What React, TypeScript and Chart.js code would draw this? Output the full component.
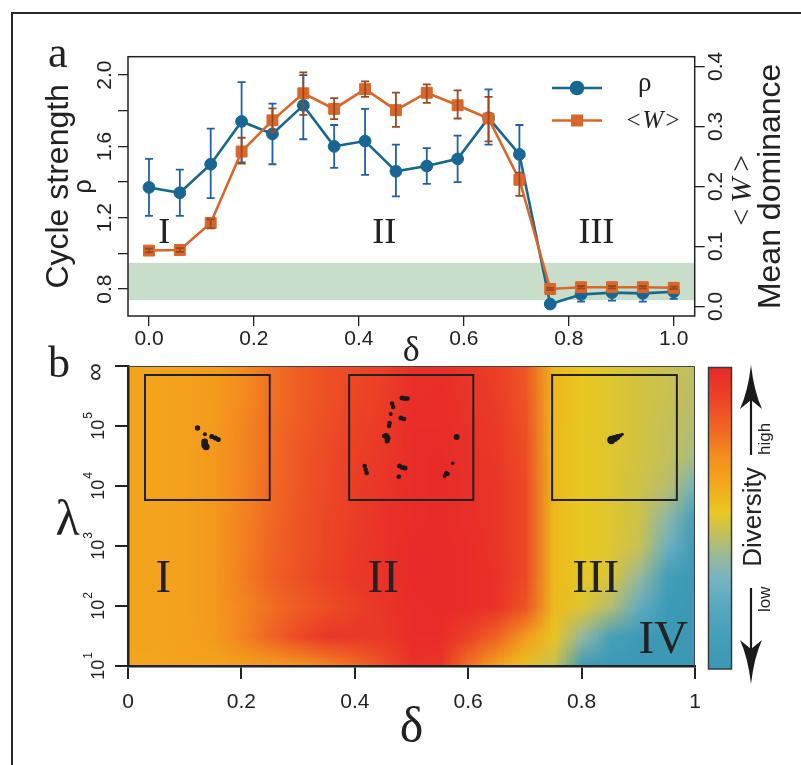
import { useEffect, useRef } from 'react';
import { Chart, registerables } from 'chart.js';

Chart.register(...registerables);

const SANS = "'Liberation Sans', Arial, Helvetica, sans-serif";
const SERIF = "'Liberation Serif', 'Times New Roman', serif";
const NARROW = "'Liberation Sans Narrow', 'Liberation Sans', Arial, sans-serif";
const INK = '#222222';

// ---------- panel a: cycle strength and mean dominance against delta ----------
const deltaPoints = [0, 0.0588, 0.1176, 0.1765, 0.2353, 0.2941, 0.3529, 0.4118, 0.4706, 0.5294, 0.5882, 0.6471, 0.7059, 0.7647, 0.8235, 0.8824, 0.9412, 1.0];
const rhoMean = [1.37, 1.34, 1.50, 1.74, 1.67, 1.83, 1.60, 1.63, 1.46, 1.49, 1.53, 1.76, 1.555, 0.716, 0.77, 0.78, 0.776, 0.785];
const rhoLow = [1.21, 1.21, 1.31, 1.51, 1.50, 1.64, 1.48, 1.44, 1.32, 1.39, 1.40, 1.61, 1.41, 0.70, 0.73, 0.735, 0.73, 0.745];
const rhoHigh = [1.53, 1.47, 1.70, 1.96, 1.84, 2.00, 1.72, 1.81, 1.61, 1.59, 1.66, 1.92, 1.72, 0.735, 0.81, 0.81, 0.812, 0.83];
const wMean = [0.093, 0.094, 0.139, 0.258, 0.310, 0.355, 0.329, 0.362, 0.327, 0.356, 0.335, 0.313, 0.211, 0.029, 0.032, 0.032, 0.032, 0.031];
const wLow = [0.090, 0.091, 0.130, 0.238, 0.291, 0.319, 0.312, 0.349, 0.299, 0.339, 0.313, 0.275, 0.184, 0.027, 0.030, 0.030, 0.030, 0.029];
const wHigh = [0.096, 0.097, 0.145, 0.281, 0.330, 0.390, 0.347, 0.375, 0.356, 0.370, 0.360, 0.349, 0.223, 0.031, 0.034, 0.034, 0.034, 0.033];
const neutralBand = [0.738, 0.947];

const topXTicks = [0, 0.2, 0.4, 0.6, 0.8, 1.0];
const topXLabels = ['0.0', '0.2', '0.4', '0.6', '0.8', '1.0'];
const rhoTicks = [0.8, 1.0, 1.2, 1.4, 1.6, 1.8, 2.0];
const rhoLabels = ['0.8', '', '1.2', '', '1.6', '', '2.0'];
const wTicks = [0, 0.1, 0.2, 0.3, 0.4];
const wLabels = ['0.0', '0.1', '0.2', '0.3', '0.4'];
const regimesTop = ['I', 'II', 'III'];
const regimesTopDelta = [0.029, 0.4485, 0.853];
const regimesTopRho = 1.056;

const BLUE = '#17688f';
const BLUE_ERR = '#2161a3';
const ORANGE = '#d9662a';
const ORANGE_ERR = '#9a4a22';
const BAND = '#c9ddcb';

// ---------- panel b: diversity over (delta, lambda) ----------
const deltaGrid = [0, 0.05, 0.1, 0.15, 0.2, 0.25, 0.3, 0.35, 0.4, 0.45, 0.5, 0.55, 0.6, 0.65, 0.7, 0.75, 0.8, 0.85, 0.9, 0.95, 1.0];
const lambdaExpGrid = [6, 5.5, 5, 4.5, 4, 3.5, 3, 2.5, 2, 1.5, 1];
const div60 = [0.63, 0.63, 0.64, 0.66, 0.71, 0.77, 0.82, 0.86, 0.88, 0.91, 0.96, 0.97, 0.94, 0.91, 0.84, 0.57, 0.52, 0.50, 0.48, 0.46, 0.44];
const div55 = [0.63, 0.63, 0.64, 0.66, 0.71, 0.77, 0.82, 0.86, 0.89, 0.92, 0.97, 0.98, 0.95, 0.92, 0.85, 0.57, 0.52, 0.50, 0.48, 0.46, 0.43];
const div50 = [0.63, 0.63, 0.64, 0.66, 0.72, 0.78, 0.83, 0.87, 0.90, 0.93, 0.98, 0.98, 0.96, 0.93, 0.86, 0.56, 0.52, 0.50, 0.48, 0.45, 0.42];
const div45 = [0.63, 0.63, 0.64, 0.67, 0.72, 0.78, 0.84, 0.88, 0.91, 0.94, 0.98, 0.99, 0.96, 0.94, 0.87, 0.56, 0.52, 0.50, 0.48, 0.45, 0.40];
const div40 = [0.63, 0.63, 0.64, 0.67, 0.72, 0.79, 0.84, 0.88, 0.92, 0.95, 0.98, 0.99, 0.97, 0.95, 0.88, 0.56, 0.52, 0.50, 0.47, 0.43, 0.28];
const div35 = [0.63, 0.63, 0.64, 0.67, 0.73, 0.79, 0.85, 0.89, 0.92, 0.96, 0.98, 0.99, 0.97, 0.95, 0.88, 0.56, 0.52, 0.50, 0.47, 0.35, 0.08];
const div30 = [0.63, 0.63, 0.64, 0.67, 0.73, 0.80, 0.85, 0.89, 0.93, 0.96, 0.99, 0.99, 0.98, 0.95, 0.88, 0.56, 0.52, 0.50, 0.46, 0.27, 0.03];
const div25 = [0.63, 0.63, 0.64, 0.67, 0.74, 0.81, 0.86, 0.90, 0.94, 0.96, 0.99, 0.99, 0.98, 0.96, 0.88, 0.56, 0.52, 0.49, 0.37, 0.10, 0.02];
const div20 = [0.63, 0.63, 0.64, 0.67, 0.72, 0.78, 0.83, 0.87, 0.91, 0.95, 0.98, 0.99, 0.98, 0.96, 0.85, 0.56, 0.50, 0.42, 0.24, 0.04, 0.02];
const div15 = [0.63, 0.63, 0.64, 0.66, 0.73, 0.80, 0.88, 0.94, 0.94, 0.94, 0.98, 0.98, 0.90, 0.80, 0.66, 0.53, 0.36, 0.12, 0.04, 0.02, 0.02];
const div10 = [0.62, 0.62, 0.63, 0.63, 0.64, 0.65, 0.67, 0.72, 0.78, 0.86, 0.96, 0.95, 0.76, 0.62, 0.53, 0.45, 0.03, 0.02, 0.02, 0.02, 0.02];
const diversityRows = [div60, div55, div50, div45, div40, div35, div30, div25, div20, div15, div10];

const diversityStops: [number, string][] = [
  [0.0, '#3a98b5'], [0.1, '#429fb9'], [0.2, '#55a8bf'], [0.3, '#78b3c3'], [0.38, '#9cba96'],
  [0.45, '#c4c05a'], [0.52, '#e8c820'], [0.6, '#f2ac1c'], [0.7, '#f5901f'], [0.8, '#f06524'],
  [0.9, '#ec4226'], [1.0, '#e8282a'],
];

const bottomXTicks = [0, 0.2, 0.4, 0.6, 0.8, 1];
const bottomXLabels = ['0', '0.2', '0.4', '0.6', '0.8', '1'];
const lambdaTicks = [1e1, 1e2, 1e3, 1e4, 1e5, 1e6];
const lambdaTickExps = ['1', '2', '3', '4', '5', '∞'];
const regimesBottom = ['I', 'II', 'III', 'IV'];
const regimesBottomDelta = [0.0623, 0.45, 0.825, 0.944];
const regimesBottomExp = [2.238, 2.238, 2.238, 1.212];

// attractor insets: delta span of each box and shared log10(lambda) span
const insetDeltaSpans = [[0.030, 0.250], [0.390, 0.609], [0.748, 0.968]];
const insetExpSpan = [5.85, 3.767];
// dots inside each box: [fraction across, fraction down, radius]
const attractorI = [
  [0.421, 0.424, 2.7], [0.48, 0.474, 2.0], [0.478, 0.535, 3.4], [0.49, 0.575, 3.5], [0.478, 0.56, 3.4],
  [0.536, 0.492, 2.6], [0.564, 0.504, 2.6], [0.588, 0.516, 2.5],
];
const attractorII = [
  [0.426, 0.184, 2.5], [0.45, 0.188, 2.5], [0.47, 0.188, 2.3], [0.346, 0.228, 2.3], [0.354, 0.256, 2.3],
  [0.335, 0.312, 2.0], [0.418, 0.344, 2.5], [0.442, 0.352, 2.3], [0.326, 0.384, 2.3], [0.322, 0.408, 2.3],
  [0.298, 0.488, 3.0], [0.31, 0.504, 3.0], [0.306, 0.528, 2.5], [0.282, 0.488, 2.3], [0.866, 0.496, 3.0],
  [0.125, 0.728, 2.3], [0.133, 0.756, 2.3], [0.141, 0.784, 2.3], [0.406, 0.728, 2.5], [0.43, 0.74, 2.5],
  [0.45, 0.744, 2.5], [0.4, 0.814, 2.3], [0.834, 0.706, 1.8], [0.784, 0.788, 2.5], [0.768, 0.808, 2.0],
  [0.796, 0.792, 2.0],
];
const attractorIII = [
  [0.475, 0.52, 4.2], [0.5, 0.508, 3.6], [0.524, 0.496, 2.9], [0.546, 0.484, 2.1], [0.562, 0.474, 1.6],
];
const attractors = [attractorI, attractorII, attractorIII];

// ---------- helpers ----------
function hexRgb(h: string): [number, number, number] {
  return [parseInt(h.slice(1, 3), 16), parseInt(h.slice(3, 5), 16), parseInt(h.slice(5, 7), 16)];
}

function diversityColor(v: number): [number, number, number] {
  for (let i = 1; i < diversityStops.length; i++) {
    const [p1, c1] = diversityStops[i];
    if (v <= p1) {
      const [p0, c0] = diversityStops[i - 1];
      const t = Math.max(0, (v - p0) / (p1 - p0));
      const a = hexRgb(c0), b = hexRgb(c1);
      return [0, 1, 2].map((k) => Math.round(a[k] + (b[k] - a[k]) * t)) as [number, number, number];
    }
  }
  return hexRgb(diversityStops[diversityStops.length - 1][1]);
}

function rotatedText(ctx: CanvasRenderingContext2D, text: string, x: number, y: number, font: string, align: CanvasTextAlign = 'center', baseline: CanvasTextBaseline = 'alphabetic') {
  ctx.save();
  ctx.translate(x, y);
  ctx.rotate(-Math.PI / 2);
  ctx.font = font;
  ctx.textAlign = align;
  ctx.textBaseline = baseline;
  ctx.fillText(text, 0, 0);
  ctx.restore();
}

// text made of differently styled pieces laid out along one baseline, centred on (0,0)
function richText(ctx: CanvasRenderingContext2D, parts: { t: string; font: string; gap?: number }[]) {
  let total = 0;
  const widths = parts.map((p) => {
    ctx.font = p.font;
    const w = ctx.measureText(p.t).width + (p.gap || 0);
    total += w;
    return w;
  });
  let cx = -total / 2;
  ctx.textAlign = 'left';
  parts.forEach((p, i) => {
    ctx.font = p.font;
    ctx.fillText(p.t, cx + (p.gap || 0) / 2, 0);
    cx += widths[i];
  });
}

function wAngle(size: number, gap: number) {
  return [
    { t: '<', font: `${size}px ${SERIF}`, gap },
    { t: 'W', font: `italic ${size}px ${SERIF}`, gap },
    { t: '>', font: `${size}px ${SERIF}`, gap },
  ];
}

// ---------- panel a plugin ----------
const panelAPlugin = {
  id: 'panelA',
  beforeDatasetsDraw(chart: any) {
    const { ctx, chartArea: a, scales } = chart;
    const top = scales.y.getPixelForValue(neutralBand[1]);
    const bot = scales.y.getPixelForValue(neutralBand[0]);
    ctx.save();
    ctx.fillStyle = BAND;
    ctx.fillRect(a.left, top, a.right - a.left, bot - top);
    ctx.restore();
  },
  afterDatasetDraw(chart: any, args: any) {
    const { ctx, scales } = chart;
    const isRho = args.index === 0;
    const lo = isRho ? rhoLow : wLow;
    const hi = isRho ? rhoHigh : wHigh;
    const ys = isRho ? scales.y : scales.y2;
    ctx.save();
    ctx.strokeStyle = isRho ? BLUE_ERR : ORANGE_ERR;
    ctx.lineWidth = 1.8;
    deltaPoints.forEach((d, i) => {
      const px = scales.x.getPixelForValue(d);
      const p0 = ys.getPixelForValue(lo[i]);
      const p1 = ys.getPixelForValue(hi[i]);
      ctx.beginPath();
      ctx.moveTo(px, p0); ctx.lineTo(px, p1);
      ctx.moveTo(px - 4, p0); ctx.lineTo(px + 4, p0);
      ctx.moveTo(px - 4, p1); ctx.lineTo(px + 4, p1);
      ctx.stroke();
    });
    ctx.restore();
  },
  afterDraw(chart: any) {
    const { ctx, chartArea: a, scales } = chart;
    const { x, y, y2 } = scales;
    ctx.save();
    ctx.strokeStyle = INK;
    ctx.lineWidth = 1.5;
    ctx.strokeRect(a.left, a.top, a.right - a.left, a.bottom - a.top);

    ctx.fillStyle = INK;
    ctx.font = `21px ${SANS}`;
    ctx.textAlign = 'center';
    ctx.textBaseline = 'alphabetic';
    topXTicks.forEach((v, i) => ctx.fillText(topXLabels[i], x.getPixelForValue(v), a.bottom + 29));
    rhoTicks.forEach((v, i) => {
      if (rhoLabels[i]) rotatedText(ctx, rhoLabels[i], a.left - 17, y.getPixelForValue(v), `21px ${SANS}`);
    });
    wTicks.forEach((v, i) => rotatedText(ctx, wLabels[i], a.right + 27, y2.getPixelForValue(v), `21px ${SANS}`));

    // axis titles
    const midY = (a.top + a.bottom) / 2;
    rotatedText(ctx, 'Cycle strength', a.left - 60, midY, `32px ${SANS}`);
    rotatedText(ctx, 'ρ', a.left - 37, midY, `25px ${SANS}`);
    rotatedText(ctx, 'Mean dominance', a.right + 85, midY, `32px ${SANS}`);
    ctx.save();
    ctx.translate(a.right + 56, midY + 4);
    ctx.rotate(-Math.PI / 2);
    ctx.textBaseline = 'alphabetic';
    richText(ctx, wAngle(30, 6));
    ctx.restore();
    ctx.font = `36px ${SERIF}`;
    ctx.textAlign = 'center';
    ctx.fillText('δ', (a.left + a.right) / 2, a.bottom + 45);

    // panel letter
    ctx.font = `44px ${SERIF}`;
    ctx.textAlign = 'left';
    ctx.fillText('a', 48, 67);

    // regime numerals
    ctx.font = `36px ${SERIF}`;
    ctx.textAlign = 'center';
    regimesTop.forEach((r, i) => ctx.fillText(r, x.getPixelForValue(regimesTopDelta[i]), y.getPixelForValue(regimesTopRho)));

    // legend
    const legendRows = [
      { y: 88, color: BLUE, shape: 'circle', label: chart.data.datasets[0].label },
      { y: 120.5, color: ORANGE, shape: 'rect', label: chart.data.datasets[1].label },
    ];
    legendRows.forEach((row) => {
      ctx.strokeStyle = row.color;
      ctx.fillStyle = row.color;
      ctx.lineWidth = 2.6;
      ctx.beginPath();
      ctx.moveTo(552, row.y);
      ctx.lineTo(602, row.y);
      ctx.stroke();
      ctx.beginPath();
      if (row.shape === 'circle') ctx.arc(577, row.y, 7.3, 0, Math.PI * 2);
      else ctx.rect(577 - 6, row.y - 6, 12, 12);
      ctx.fill();
    });
    ctx.fillStyle = INK;
    ctx.font = `27px ${SERIF}`;
    ctx.textAlign = 'left';
    ctx.fillText(legendRows[0].label, 638, 91);
    ctx.save();
    ctx.translate(653, 128);
    richText(ctx, wAngle(25, 2));
    ctx.restore();
    ctx.restore();
  },
};

// ---------- panel b plugin ----------
let heatImage: HTMLCanvasElement | null = null;
function getHeatImage() {
  if (heatImage) return heatImage;
  const nr = diversityRows.length;
  const nc = deltaGrid.length;
  const off = document.createElement('canvas');
  off.width = nc;
  off.height = nr;
  const octx = off.getContext('2d')!;
  const img = octx.createImageData(nc, nr);
  diversityRows.forEach((row, r) => row.forEach((v, c) => {
    const [R, G, B] = diversityColor(v);
    const k = (r * nc + c) * 4;
    img.data[k] = R; img.data[k + 1] = G; img.data[k + 2] = B; img.data[k + 3] = 255;
  }));
  octx.putImageData(img, 0, 0);
  heatImage = off;
  return off;
}

function arrowHead(ctx: CanvasRenderingContext2D, x: number, tipY: number, dir: number) {
  // dir = -1 for pointing up, +1 for pointing down
  const len = 44;
  ctx.beginPath();
  ctx.moveTo(x, tipY);
  ctx.quadraticCurveTo(x - 3, tipY - dir * len * 0.6, x - 11, tipY - dir * len);
  ctx.lineTo(x, tipY - dir * (len - 9));
  ctx.lineTo(x + 11, tipY - dir * len);
  ctx.quadraticCurveTo(x + 3, tipY - dir * len * 0.6, x, tipY);
  ctx.closePath();
  ctx.fill();
}

const panelBPlugin = {
  id: 'panelB',
  beforeDraw(chart: any) {
    const { ctx, scales } = chart;
    const { x, y } = scales;
    const img = getHeatImage();
    const nc = deltaGrid.length, nr = lambdaExpGrid.length;
    const x0 = x.getPixelForValue(deltaGrid[0]);
    const x1 = x.getPixelForValue(deltaGrid[nc - 1]);
    const yT = y.getPixelForValue(10 ** lambdaExpGrid[0]);
    const yB = y.getPixelForValue(10 ** lambdaExpGrid[nr - 1]);
    ctx.save();
    ctx.imageSmoothingEnabled = true;
    ctx.imageSmoothingQuality = 'low';
    ctx.drawImage(img, 0.5, 0.5, nc - 1, nr - 1, x0, yT, x1 - x0, yB - yT);
    ctx.restore();
  },
  beforeDatasetsDraw(chart: any) {
    const { ctx, scales } = chart;
    const { x, y } = scales;
    ctx.save();
    ctx.strokeStyle = INK;
    ctx.lineWidth = 2;
    const top = y.getPixelForValue(10 ** insetExpSpan[0]);
    const bot = y.getPixelForValue(10 ** insetExpSpan[1]);
    insetDeltaSpans.forEach(([d0, d1]) => {
      const l = x.getPixelForValue(d0), r = x.getPixelForValue(d1);
      ctx.strokeRect(l, top, r - l, bot - top);
    });
    ctx.restore();
  },
  afterDraw(chart: any) {
    const { ctx, chartArea: a, scales } = chart;
    const { x, y } = scales;
    ctx.save();
    // thin frame on the open sides of the map
    ctx.strokeStyle = '#444';
    ctx.lineWidth = 1;
    ctx.beginPath();
    ctx.moveTo(a.left, a.top + 0.5);
    ctx.lineTo(a.right - 0.5, a.top + 0.5);
    ctx.lineTo(a.right - 0.5, a.bottom);
    ctx.stroke();

    ctx.fillStyle = INK;
    ctx.font = `21px ${NARROW}`;
    ctx.textAlign = 'center';
    ctx.textBaseline = 'alphabetic';
    bottomXTicks.forEach((v, i) => ctx.fillText(bottomXLabels[i], x.getPixelForValue(v), a.bottom + 42));

    lambdaTicks.forEach((v, i) => {
      const py = y.getPixelForValue(v);
      const e = lambdaTickExps[i];
      ctx.save();
      ctx.translate(a.left - 24.5, py);
      ctx.rotate(-Math.PI / 2);
      if (e === '∞') {
        ctx.font = `25px ${SANS}`;
        ctx.textAlign = 'center';
        ctx.fillText('∞', -6, -1);
      } else {
        ctx.font = `18px ${SANS}`;
        const wb = ctx.measureText('10').width;
        ctx.font = `12px ${SANS}`;
        const we = ctx.measureText(e).width;
        const start = -(wb + we + 1) / 2;
        ctx.textAlign = 'left';
        ctx.font = `18px ${SANS}`;
        ctx.fillText('10', start, 0);
        ctx.font = `12px ${SANS}`;
        ctx.fillText(e, start + wb + 1, -12);
      }
      ctx.restore();
    });

    // axis titles and panel letter
    ctx.font = `50px ${SERIF}`;
    ctx.textAlign = 'center';
    ctx.fillText('δ', (a.left + a.right) / 2, a.bottom + 76);
    ctx.fillText('λ', 67.5, a.top + 169);
    ctx.font = `44px ${SERIF}`;
    ctx.textAlign = 'left';
    ctx.fillText('b', 48, a.top + 11);

    // regime numerals
    ctx.font = `47px ${SERIF}`;
    ctx.textAlign = 'center';
    regimesBottom.forEach((r, i) => ctx.fillText(r, x.getPixelForValue(regimesBottomDelta[i]), y.getPixelForValue(10 ** regimesBottomExp[i])));

    // colour bar
    const cbL = a.right + 13.5, cbR = a.right + 36.5;
    const cbT = a.top + 1.5, cbB = a.bottom + 3;
    const grad = ctx.createLinearGradient(0, cbB, 0, cbT);
    diversityStops.forEach(([p, c]) => grad.addColorStop(p, c));
    ctx.fillStyle = grad;
    ctx.fillRect(cbL, cbT, cbR - cbL, cbB - cbT);
    ctx.strokeStyle = '#3a3a3a';
    ctx.lineWidth = 1.5;
    ctx.strokeRect(cbL, cbT, cbR - cbL, cbB - cbT);

    // direction arrows with the bar's caption
    const ax = 751;
    ctx.strokeStyle = '#1a1a1a';
    ctx.fillStyle = '#1a1a1a';
    ctx.lineWidth = 2.2;
    ctx.beginPath();
    ctx.moveTo(ax, a.top + 89);
    ctx.lineTo(ax, a.top + 30);
    ctx.moveTo(ax, a.top + 222);
    ctx.lineTo(ax, a.top + 290);
    ctx.stroke();
    arrowHead(ctx, ax, a.top - 1, -1);
    arrowHead(ctx, ax, a.top + 318, 1);

    ctx.fillStyle = INK;
    rotatedText(ctx, 'Diversity', 761, a.top + 151, `26px ${SANS}`);
    rotatedText(ctx, 'high', 769.5, a.top + 89, `17px ${SANS}`, 'left');
    rotatedText(ctx, 'low', 769.5, a.top + 246, `17px ${SANS}`, 'left');
    ctx.restore();
  },
};

function insetData(k: number) {
  const [d0, d1] = insetDeltaSpans[k];
  const [e0, e1] = insetExpSpan;
  return attractors[k].map(([fx, fy]) => ({ x: d0 + fx * (d1 - d0), y: 10 ** (e0 - fy * (e0 - e1)) }));
}

function makeTopChart(canvas: HTMLCanvasElement) {
  const tickGrid = { drawOnChartArea: false, drawTicks: true, tickLength: 10, color: INK, lineWidth: 1.3 };
  return new Chart(canvas, {
    type: 'line',
    data: {
      datasets: [
        {
          label: 'ρ',
          data: deltaPoints.map((d, i) => ({ x: d, y: rhoMean[i] })),
          yAxisID: 'y',
          borderColor: BLUE,
          backgroundColor: BLUE,
          borderWidth: 2.6,
          pointStyle: 'circle',
          pointRadius: 5.9,
          pointBorderWidth: 1,
          order: 2,
        },
        {
          label: '<W>',
          data: deltaPoints.map((d, i) => ({ x: d, y: wMean[i] })),
          yAxisID: 'y2',
          borderColor: ORANGE,
          backgroundColor: ORANGE,
          borderWidth: 2.6,
          pointStyle: 'rect',
          pointRadius: 7.7,
          pointBorderWidth: 1,
          order: 1,
        },
      ],
    },
    options: {
      responsive: false,
      animation: false,
      events: [],
      layout: { padding: { top: 56.7, left: 0, right: 0, bottom: 0 } },
      plugins: { legend: { display: false }, tooltip: { enabled: false } },
      scales: {
        x: {
          type: 'linear', min: -0.04, max: 1.04,
          afterBuildTicks: (s: any) => { s.ticks = topXTicks.map((v) => ({ value: v })); },
          afterFit: (s: any) => { s.height = 372 - 316; },
          ticks: { display: false }, grid: tickGrid, border: { display: false },
        },
        y: {
          type: 'linear', position: 'left', min: 0.649, max: 2.103,
          afterBuildTicks: (s: any) => { s.ticks = rhoTicks.map((v) => ({ value: v })); },
          afterFit: (s: any) => { s.width = 128; },
          ticks: { display: false }, grid: tickGrid, border: { display: false },
        },
        y2: {
          type: 'linear', position: 'right', min: -0.016, max: 0.416,
          afterBuildTicks: (s: any) => { s.ticks = wTicks.map((v) => ({ value: v })); },
          afterFit: (s: any) => { s.width = 801 - 694.7; },
          ticks: { display: false }, grid: tickGrid, border: { display: false },
        },
      },
    } as any,
    plugins: [panelAPlugin],
  });
}

function makeBottomChart(canvas: HTMLCanvasElement) {
  const axisGrid = { drawOnChartArea: false, drawTicks: true, tickLength: 13, color: INK, lineWidth: 2 };
  return new Chart(canvas, {
    type: 'scatter',
    data: {
      datasets: attractors.map((dots, k) => ({
        label: `attractor ${k + 1}`,
        data: insetData(k),
        backgroundColor: '#1a1a1a',
        borderWidth: 0,
        pointRadius: dots.map((d) => d[2]),
      })),
    },
    options: {
      responsive: false,
      animation: false,
      events: [],
      layout: { padding: { top: 26, left: 0, right: 106, bottom: 0 } },
      plugins: { legend: { display: false }, tooltip: { enabled: false } },
      scales: {
        x: {
          type: 'linear', min: 0, max: 1,
          afterBuildTicks: (s: any) => { s.ticks = bottomXTicks.map((v) => ({ value: v })); },
          afterFit: (s: any) => { s.height = 425 - 326; },
          ticks: { display: false }, grid: axisGrid, border: { display: true, color: INK, width: 2.5 },
        },
        y: {
          type: 'logarithmic', position: 'left', min: 1e1, max: 1e6,
          afterBuildTicks: (s: any) => { s.ticks = lambdaTicks.map((v) => ({ value: v })); },
          afterFit: (s: any) => { s.width = 128; },
          ticks: { display: false }, grid: axisGrid, border: { display: true, color: INK, width: 2.5 },
        },
      },
    } as any,
    plugins: [panelBPlugin],
  });
}

export default function App() {
  const topRef = useRef<HTMLCanvasElement>(null);
  const bottomRef = useRef<HTMLCanvasElement>(null);

  useEffect(() => {
    const a = makeTopChart(topRef.current!);
    const b = makeBottomChart(bottomRef.current!);
    return () => {
      a.destroy();
      b.destroy();
    };
  }, []);

  return (
    <div style={{ position: 'absolute', left: 0, top: 0, width: 801, height: 765, background: '#fff', overflow: 'hidden' }}>
      <div style={{ position: 'absolute', left: 11, top: 12, right: 0, bottom: 0, borderTop: '2px solid #262626', borderLeft: '2px solid #262626' }} />
      <canvas ref={topRef} width={801} height={372} style={{ position: 'absolute', left: 0, top: 0 }} />
      <canvas ref={bottomRef} width={801} height={425} style={{ position: 'absolute', left: 0, top: 340 }} />
    </div>
  );
}
